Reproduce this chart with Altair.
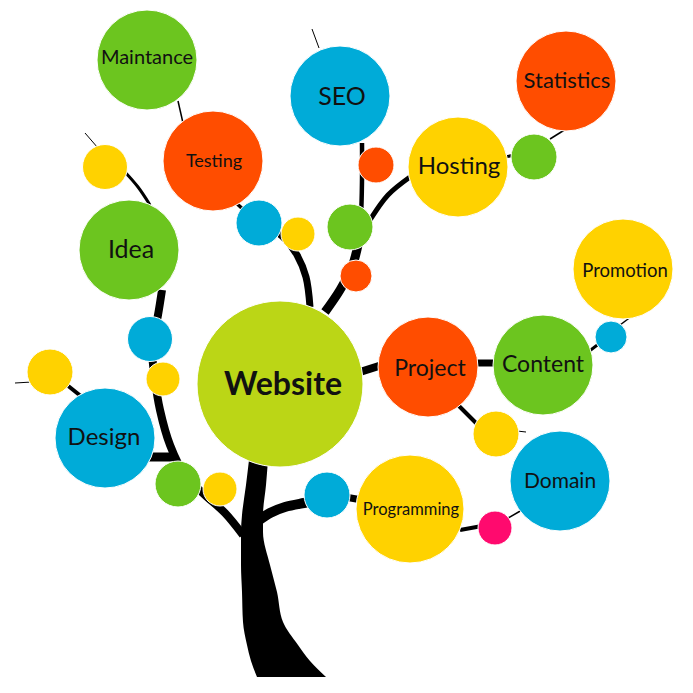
import altair as alt
import pandas as pd

# ---- nodes (image pixel coordinates) ----
node_x = [147, 213, 105, 129, 259, 298, 340, 350, 376, 356,
          458, 534, 566, 623, 611, 50, 150, 105,
          163, 178, 220, 280, 327, 428, 543, 496, 560,
          410, 495]
node_y = [55, 156, 162, 245, 218, 229, 91, 222, 160, 271,
          162, 152, 76, 264, 332, 367, 334, 433,
          374, 479, 484, 379, 490, 362, 360, 429, 476,
          504, 523]
node_r = [50, 50, 22.5, 50, 23, 17, 50, 23, 18, 16,
          50, 23, 50, 50, 16, 23, 22.5, 50,
          17, 23, 17, 83, 23, 50, 50, 23, 50,
          54, 17]
node_color = ["green", "orange", "yellow", "green", "blue", "yellow", "blue", "green", "orange", "orange",
              "yellow", "green", "orange", "yellow", "blue", "yellow", "blue", "blue",
              "yellow", "green", "yellow", "lime", "blue", "orange", "green", "yellow", "blue",
              "yellow", "pink"]

label_text = ["Maintance", "Testing", "Idea", "SEO", "Hosting", "Statistics", "Promotion",
              "Project", "Content", "Domain", "Programming", "Design", "Website"]
label_x = [147, 214, 131, 342, 459, 567, 625, 430, 543, 560, 411, 104, 283]
label_y = [53, 157, 245, 92, 162, 76, 266, 364, 360, 477, 505, 433, 380]
label_size = [20, 18, 25, 25, 24, 22, 18.5, 23, 23, 21, 16.5, 24, 32]
label_bold = [False] * 12 + [True]

palette = {"green": "#6CC51F", "orange": "#FF4D00", "yellow": "#FFD200",
           "blue": "#00ABD8", "lime": "#BBD616", "pink": "#FF0A6E"}

# ---- branches: x list, y list, width ----
branches = {
    "left_main": ([243, 225, 205, 185, 170, 160, 155, 152, 158, 162],
                  [530, 508, 490, 470, 440, 405, 375, 340, 310, 285], 8),
    "idea_top": ([150, 138, 124], [200, 182, 166], 3),
    "design_stub": ([148, 174], [452, 452], 9),
    "yellow_design": ([62, 82], [376, 392], 4),
    "yellow_far": ([15, 32], [378, 377], 1),
    "yellow_top": ([85, 98], [128, 143], 1),
    "seo_top": ([312, 319], [24, 43], 1),
    "maint_test": ([178, 183], [96, 118], 1.5),
    "test_blue": ([234, 246], [196, 207], 3.5),
    "upper_left": ([310, 306, 297, 285, 270], [302, 272, 250, 234, 222], 7),
    "upper_right": ([325, 340, 352, 358], [307, 285, 262, 240], 9),
    "seo_stem": ([358, 361, 362, 362], [240, 210, 175, 138], 4.5),
    "hosting": ([356, 370, 388, 410], [240, 215, 190, 172], 5),
    "host_green": ([505, 515], [152, 150], 3),
    "green_stat": ([550, 566], [134, 124], 1.5),
    "web_proj": ([360, 382], [367, 360], 8),
    "proj_cont": ([475, 495], [358, 358], 7),
    "proj_yellow": ([458, 478], [400, 420], 4),
    "yellow_dom": ([517, 526], [426, 427], 1),
    "cont_blue": ([588, 600], [347, 338], 3),
    "blue_promo": ([620, 632], [320, 311], 1.5),
    "right_low": ([258, 270, 285, 304, 315], [516, 508, 502, 498, 496], 10),
    "blue_prog": ([345, 362], [492, 495], 7),
    "prog_pink": ([460, 482], [525, 521], 4),
    "pink_dom": ([508, 522], [513, 505], 1.5),
}

trunk_y = [455, 480, 510, 527, 560, 587, 617, 640, 656, 672]
trunk_xl = [249, 246, 242, 241, 241, 242, 243, 247, 251, 257]
trunk_xr = [268, 266, 263, 263, 270, 277, 283, 298, 310, 326]

# ---- frames ----
nodes = pd.DataFrame({"x": node_x, "y": node_y, "r": node_r,
                      "c": [palette[c] for c in node_color]})
nodes["s"] = 4 * nodes["r"] ** 2

labels = pd.DataFrame({"t": label_text, "x": label_x, "y": label_y,
                       "fs": label_size, "b": label_bold})

rows = []
for bid, (bxs, bys, w) in branches.items():
    for i, (bx, by) in enumerate(zip(bxs, bys)):
        rows.append({"id": bid, "o": i, "x": bx, "y": by, "w": w})
bdf = pd.DataFrame(rows)

tdf = pd.DataFrame({"y": trunk_y, "xl": trunk_xl, "xr": trunk_xr})

xs = alt.Scale(domain=[8, 685], nice=False, zero=False)
ys = alt.Scale(domain=[685, 8], nice=False, zero=False)

X = alt.X("x:Q", scale=xs, axis=None)
Y = alt.Y("y:Q", scale=ys, axis=None)

branch_layer = alt.Chart(bdf).mark_line(color="black", interpolate="catmull-rom",
                                        strokeCap="butt").encode(
    x=X, y=Y, detail="id:N", order="o:Q",
    strokeWidth=alt.StrokeWidth("w:Q", scale=None, legend=None),
)

trunk_layer = alt.Chart(tdf).mark_area(color="black", orient="horizontal",
                                       interpolate="monotone").encode(
    y=alt.Y("y:Q", scale=ys, axis=None),
    x=alt.X("xl:Q", scale=xs, axis=None),
    x2="xr:Q",
)

node_layer = alt.Chart(nodes).mark_circle(opacity=1, stroke="white", strokeWidth=1).encode(
    x=X, y=Y,
    size=alt.Size("s:Q", scale=None, legend=None),
    color=alt.Color("c:N", scale=None, legend=None),
)

text_normal = alt.Chart(labels[~labels["b"]]).mark_text(
    font="Lato", color="#111111", align="center", baseline="middle").encode(
    x=X, y=Y, text="t:N", size=alt.Size("fs:Q", scale=None, legend=None))

text_bold = alt.Chart(labels[labels["b"]]).mark_text(
    font="Lato", fontWeight="bold", color="#111111", align="center", baseline="middle").encode(
    x=X, y=Y, text="t:N", size=alt.Size("fs:Q", scale=None, legend=None))

chart = alt.layer(branch_layer, trunk_layer, node_layer, text_normal, text_bold).properties(
    width=677, height=677, padding=0, background="white"
).configure_view(stroke=None)

chart.save("out.html", embed_options={"renderer": "svg", "actions": False})
